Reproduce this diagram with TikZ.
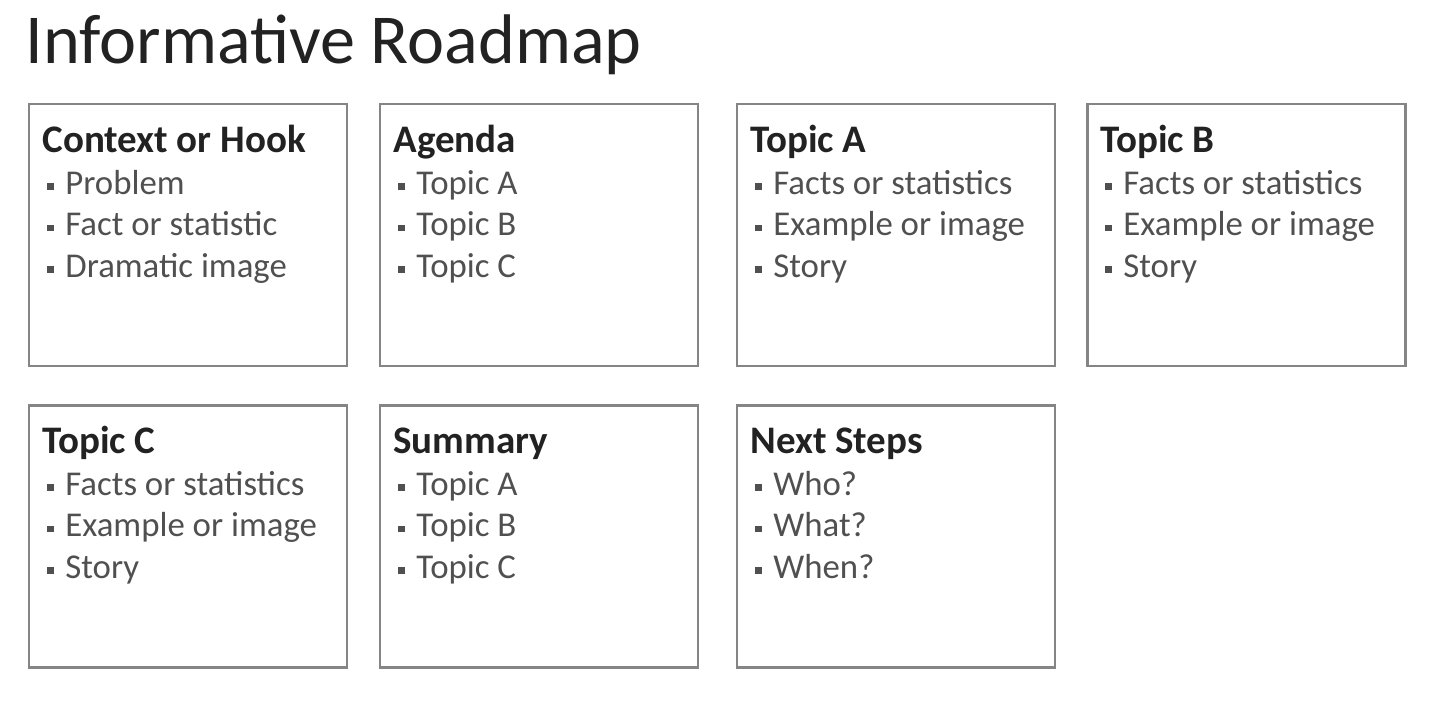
\documentclass[tikz,border=0pt]{standalone}
\usepackage{fontspec}
\setmainfont{Carlito}
\usepackage{xcolor}
\usepackage{tikz}
\usetikzlibrary{positioning}
\definecolor{framegray}{HTML}{858585}
\definecolor{headgray}{HTML}{222222}
\definecolor{itemgray}{HTML}{505050}
\newcommand{\hd}[1]{{\fontsize{19.5}{20.75}\selectfont\bfseries\color{headgray}\vphantom{Hk}#1}}
\newcommand{\itm}[1]{{\color{itemgray}\hspace*{2.5pt}\rule[2.2pt]{3.4pt}{3.4pt}\hspace{5.6pt}#1}}
\tikzset{
  card/.style={
    draw=framegray,
    line width=1.2pt,
    minimum width=159pt,
    minimum height=131pt,
    inner sep=0pt},
  cardtext/.style={
    anchor=north west,
    inner sep=0pt,
    align=left,
    font=\fontsize{17.4}{20.75}\selectfont}
  }
\begin{document}
\begin{tikzpicture}[x=0.5pt,y=-0.5pt]
    \useasboundingbox (0,0) rectangle (1440,716);
    \node[anchor=base west, inner sep=0pt, text=headgray,
      font=\fontsize{35.1}{40}\selectfont] (title) at (25,64) {Informative Roadmap};
    % first row
    \node[card] (hook) at (188,235) {};
    \node[card] (agenda) at (539,235) {};
    \node[card] (topA) at (896,235) {};
    \node[card] (topB) at (1246.5,235) {};
    \node[cardtext] (hooktxt) at (42,125)
      {\hd{Context or Hook}\\ \itm{Problem}\\ \itm{Fact or statistic}\\ \itm{Dramatic image}};
    \node[cardtext] (agendatxt) at (393,125)
      {\hd{Agenda}\\ \itm{Topic A}\\ \itm{Topic B}\\ \itm{Topic C}};
    \node[cardtext] (topAtxt) at (750,125)
      {\hd{Topic A}\\ \itm{Facts or statistics}\\ \itm{Example or image}\\ \itm{Story}};
    \node[cardtext] (topBtxt) at (1100,125)
      {\hd{Topic B}\\ \itm{Facts or statistics}\\ \itm{Example or image}\\ \itm{Story}};
    % second row
    \node[card] (topC) at (188,536.5) {};
    \node[card] (summary) at (539,536.5) {};
    \node[card] (next) at (896,536.5) {};
    \node[cardtext] (topCtxt) at (42,426)
      {\hd{Topic C}\\ \itm{Facts or statistics}\\ \itm{Example or image}\\ \itm{Story}};
    \node[cardtext] (summarytxt) at (393,426)
      {\hd{Summary}\\ \itm{Topic A}\\ \itm{Topic B}\\ \itm{Topic C}};
    \node[cardtext] (nexttxt) at (750,426)
      {\hd{Next Steps}\\ \itm{Who?}\\ \itm{What?}\\ \itm{When?}};
\end{tikzpicture}
\end{document}
